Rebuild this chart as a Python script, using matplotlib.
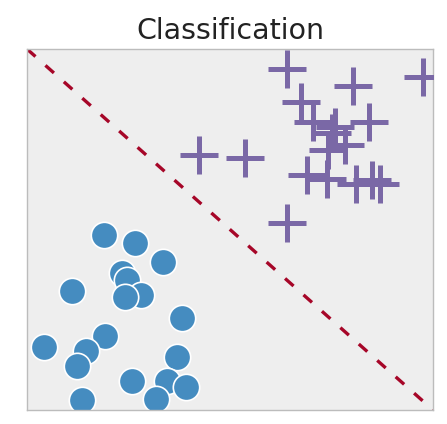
import matplotlib
matplotlib.use("Agg")
import matplotlib.pyplot as plt

# class 0 (circles)
circle_x = [-2.48, -1.87, -1.33, -2.13, -2.02, -1.75, -2.06, -3.12, -0.95, -3.67,
            -2.46, -2.84, -3.01, -1.04, -1.94, -1.24, -0.87, -1.45, -2.92]
circle_y = [-0.12, -0.29, -0.71, -0.97, -1.12, -1.45, -1.50, -1.36, -1.95, -2.61,
            -2.36, -2.69, -3.02, -2.82, -3.36, -3.36, -3.50, -3.76, -3.78]

# class 1 (crosses)
cross_x = [1.12, 2.42, 3.80, 1.40, -0.61, 0.30, 1.12, 2.74, 1.64, 2.07,
           1.93, 2.27, 1.52, 1.91, 2.48, 2.80, 2.96, 2.01]
cross_y = [3.56, 3.18, 3.38, 2.83, 1.65, 1.58, 0.14, 2.38, 2.38, 2.27,
           1.76, 1.87, 1.21, 1.12, 1.01, 1.10, 1.01, 2.14]

# decision boundary y = -x
boundary_x = [-4, 4]
boundary_y = [4, -4]

title = "Classification"

plt.style.use("bmh")
fig = plt.figure(figsize=(4.47, 4.24), dpi=100)
ax = fig.add_axes([0.0604, 0.033, 0.9083, 0.8514])
ax.set_facecolor("#eeeeee")
ax.grid(False)

ax.plot(boundary_x, boundary_y, color="#A60628", lw=2.4,
        linestyle=(0, (3.4, 4.0)), zorder=1)
ax.plot(circle_x, circle_y, linestyle="none", marker="o", markersize=19,
        markerfacecolor="#458CC0", markeredgecolor="white", markeredgewidth=1.2,
        zorder=2)
ax.plot(cross_x, cross_y, linestyle="none", marker="+", markersize=28,
        markeredgecolor="#7A68A6", markeredgewidth=3.6, zorder=3)

ax.set_xlim(-4, 4)
ax.set_ylim(-4, 4)
ax.set_xticks([])
ax.set_yticks([])
for s in ax.spines.values():
    s.set_color("#bcbcbc")
    s.set_linewidth(1.0)
ax.set_title(title, fontsize=20.5, color="#222222", pad=7)

fig.savefig("out.png", dpi=100)
